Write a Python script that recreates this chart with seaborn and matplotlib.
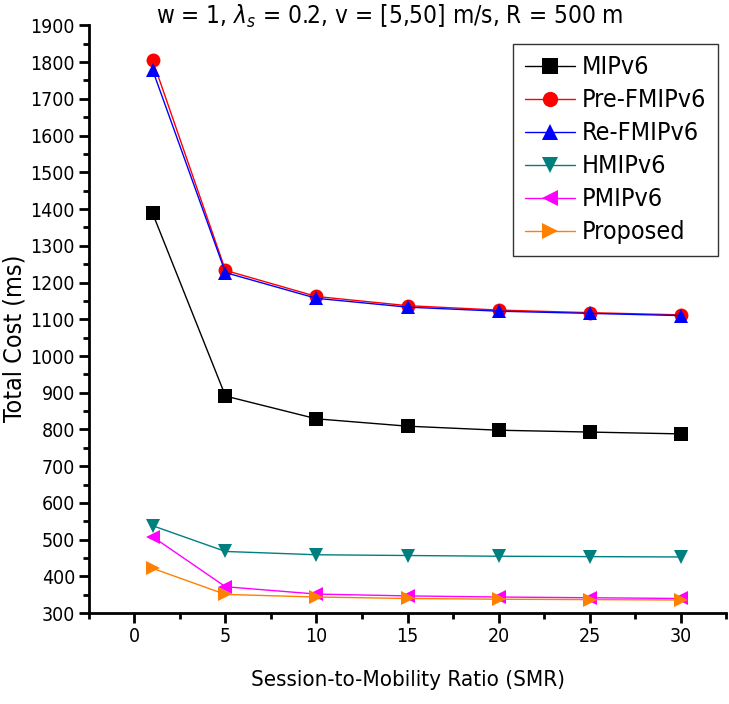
import pandas as pd
import matplotlib
matplotlib.use("Agg")
import matplotlib.pyplot as plt
import seaborn as sns
from matplotlib.ticker import MultipleLocator

# values
smr = [1, 5, 10, 15, 20, 25, 30]
mipv6 = [1388, 891, 829, 809, 798, 793, 788]
pre_fmipv6 = [1805, 1233, 1162, 1137, 1125, 1118, 1112]
re_fmipv6 = [1778, 1227, 1157, 1133, 1122, 1116, 1110]
hmipv6 = [538, 468, 459, 457, 455, 454, 453]
pmipv6 = [508, 372, 352, 347, 344, 342, 340]
proposed = [422, 351, 344, 340, 338, 337, 336]

schemes = ['MIPv6', 'Pre-FMIPv6', 'Re-FMIPv6', 'HMIPv6', 'PMIPv6', 'Proposed']
series = [mipv6, pre_fmipv6, re_fmipv6, hmipv6, pmipv6, proposed]
colors = ['#000000', '#FF0000', '#0000FF', '#007F7F', '#FF00FF', '#FF8000']
marks = ['s', 'o', '^', 'v', '<', '>']

rows = []
for name, vals in zip(schemes, series):
    for x, v in zip(smr, vals):
        rows.append({'SMR': x, 'cost': v, 'scheme': name})
df = pd.DataFrame(rows)

sns.set_style('ticks')
plt.rcParams['font.family'] = ['DejaVu Sans Condensed', 'DejaVu Sans']
plt.rcParams['font.stretch'] = 'condensed'
plt.rcParams['text.color'] = 'black'
plt.rcParams['axes.labelcolor'] = 'black'
plt.rcParams['xtick.color'] = 'black'
plt.rcParams['ytick.color'] = 'black'

fig = plt.figure(figsize=(7.29, 7.04), dpi=100)
ax = fig.add_axes([0.122, 0.129, 0.874, 0.835])

sns.lineplot(data=df, x='SMR', y='cost', hue='scheme', style='scheme',
             hue_order=schemes, style_order=schemes,
             palette=dict(zip(schemes, colors)),
             markers=dict(zip(schemes, marks)), dashes=False,
             markersize=10, markeredgewidth=0, linewidth=1, ax=ax)

ax.set_xlim(-2.5, 32.5)
ax.set_ylim(300, 1900)
ax.xaxis.set_major_locator(MultipleLocator(5))
ax.xaxis.set_minor_locator(MultipleLocator(2.5))
ax.yaxis.set_major_locator(MultipleLocator(100))
ax.yaxis.set_minor_locator(MultipleLocator(50))
ax.tick_params(which='major', length=7, width=2, labelsize=14, pad=3)
ax.tick_params(which='minor', length=4, width=2)
for s in ['top', 'right']:
    ax.spines[s].set_visible(False)
for s in ['left', 'bottom']:
    ax.spines[s].set_linewidth(2)
    ax.spines[s].set_color('black')

ax.set_xlabel('Session-to-Mobility Ratio (SMR)', fontsize=16, labelpad=17)
ax.set_ylabel('Total Cost (ms)', fontsize=18)
ax.yaxis.set_label_coords(-0.098, 0.468)
fig.text(0.535, 0.977, r'w = 1, $\lambda_s$ = 0.2, v = [5,50] m/s, R = 500 m',
         ha='center', va='center', fontsize=17.5)

leg = ax.legend(loc='upper right', bbox_to_anchor=(0.987, 0.968),
                fontsize=18, frameon=True, fancybox=False, edgecolor='black',
                handlelength=2.0, borderpad=0.45, labelspacing=0.36,
                handletextpad=0.3, borderaxespad=0)
leg.get_frame().set_linewidth(1)
for h in leg.legend_handles:
    h.set_markersize(11)

fig.savefig('out.png', dpi=100)
